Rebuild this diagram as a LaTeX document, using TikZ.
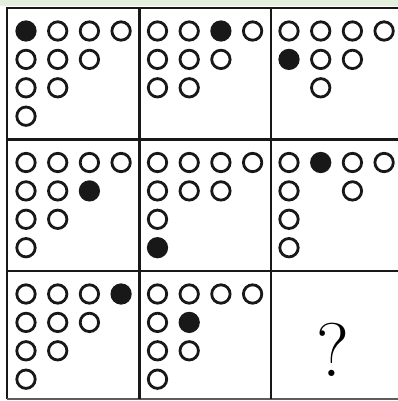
\documentclass[tikz,border=0pt]{standalone}
\usepackage{tikz}
\definecolor{fondoverde}{RGB}{228,239,221}
\definecolor{trazo}{RGB}{24,24,24}

\begin{document}
\begin{tikzpicture}[x=1pt, y=-1pt, line width=2.8pt,
    hueco/.style={draw=trazo, fill=white},
    lleno/.style={draw=trazo, fill=trazo}]
    \useasboundingbox (0,0) rectangle (398,401);
    \fill[white] (0,0) rectangle (398,401);
    \fill[fondoverde] (0,0) rectangle (398,6);
    % cuadricula 3x3 (sin borde derecho)
    \draw[trazo, line width=2.6pt] (398,8) -- (7,8) -- (7,399);
    \draw[trazo!70, line width=2pt] (7,399) -- (398,399);
    \draw[trazo, line width=2.4pt] (139.5,8) -- (139.5,399);
    \draw[trazo, line width=2.4pt] (271,8) -- (271,399);
    \draw[trazo, line width=2.4pt] (7,139.5) -- (398,139.5);
    \draw[trazo, line width=2.4pt] (7,271) -- (398,271);
    % fila 1
    \begin{scope}[shift={(7,8)}]
        \foreach \c/\r/\t in {0/0/lleno,1/0/hueco,2/0/hueco,3/0/hueco,0/1/hueco,1/1/hueco,2/1/hueco,0/2/hueco,1/2/hueco,0/3/hueco}
            \draw[\t] (19,23+28.4*\r) ++(31.7*\c,0) circle (9.2);
    \end{scope}
    \begin{scope}[shift={(139.5,8)}]
        \foreach \c/\r/\t in {0/0/hueco,1/0/hueco,2/0/lleno,3/0/hueco,0/1/hueco,1/1/hueco,2/1/hueco,0/2/hueco,1/2/hueco}
            \draw[\t] (18,23+28.4*\r) ++(31.7*\c,0) circle (9.2);
    \end{scope}
    \begin{scope}[shift={(271,8)}]
        \foreach \c/\r/\t in {0/0/hueco,1/0/hueco,2/0/hueco,3/0/hueco,0/1/lleno,1/1/hueco,2/1/hueco,1/2/hueco}
            \draw[\t] (18,23+28.4*\r) ++(31.7*\c,0) circle (9.2);
    \end{scope}
    % fila 2
    \begin{scope}[shift={(7,139.5)}]
        \foreach \c/\r/\t in {0/0/hueco,1/0/hueco,2/0/hueco,3/0/hueco,0/1/hueco,1/1/hueco,2/1/lleno,0/2/hueco,1/2/hueco,0/3/hueco}
            \draw[\t] (19,23+28.4*\r) ++(31.7*\c,0) circle (9.2);
    \end{scope}
    \begin{scope}[shift={(139.5,139.5)}]
        \foreach \c/\r/\t in {0/0/hueco,1/0/hueco,2/0/hueco,3/0/hueco,0/1/hueco,1/1/hueco,2/1/hueco,0/2/hueco,0/3/lleno}
            \draw[\t] (18,23+28.4*\r) ++(31.7*\c,0) circle (9.2);
    \end{scope}
    \begin{scope}[shift={(271,139.5)}]
        \foreach \c/\r/\t in {0/0/hueco,1/0/lleno,2/0/hueco,3/0/hueco,0/1/hueco,2/1/hueco,0/2/hueco,0/3/hueco}
            \draw[\t] (18,23+28.4*\r) ++(31.7*\c,0) circle (9.2);
    \end{scope}
    % fila 3
    \begin{scope}[shift={(7,271)}]
        \foreach \c/\r/\t in {0/0/hueco,1/0/hueco,2/0/hueco,3/0/lleno,0/1/hueco,1/1/hueco,2/1/hueco,0/2/hueco,1/2/hueco,0/3/hueco}
            \draw[\t] (19,23+28.4*\r) ++(31.7*\c,0) circle (9.2);
    \end{scope}
    \begin{scope}[shift={(139.5,271)}]
        \foreach \c/\r/\t in {0/0/hueco,1/0/hueco,2/0/hueco,3/0/hueco,0/1/hueco,1/1/lleno,0/2/hueco,1/2/hueco,0/3/hueco}
            \draw[\t] (18,23+28.4*\r) ++(31.7*\c,0) circle (9.2);
    \end{scope}
    % casilla vacia
    \node[font=\fontsize{76}{76}\selectfont, inner sep=0pt] (pregunta) at (333,350) {?};
\end{tikzpicture}
\end{document}
